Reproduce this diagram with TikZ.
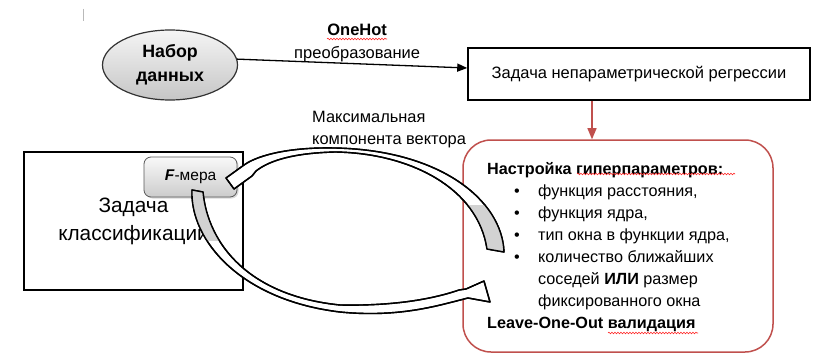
\documentclass[tikz,border=0pt]{standalone}
\usepackage{fontspec}
\setmainfont{Liberation Sans}
\usetikzlibrary{shapes.geometric, arrows, positioning, shadows, decorations.pathmorphing}
\definecolor{rubric}{HTML}{C0504D}

% bullet line and continuation line inside the tuning box
\newcommand{\bul}{\hspace*{27pt}\makebox[24pt][l]{\textbullet}}
\newcommand{\cont}{\hspace*{51pt}}

% the two twisted block arrows of the loop
\newcommand{\backband}{(504,252) .. controls (502,200) and (440,150) .. (335,148)
    .. controls (290,147) and (258,155) .. (244,165) -- (226,178) -- (234,189)
    -- (252,176) -- (256,171) .. controls (270,160) and (295,153) .. (335,152)
    .. controls (410,153) and (478,188) .. (487,249) -- cycle}
\newcommand{\fwdband}{(192,190) .. controls (190,240) and (240,300) .. (340,312)
    .. controls (400,318) and (440,305) .. (468,298) -- (490,302) -- (484,281)
    -- (466,289) -- (459,290) .. controls (430,300) and (390,306) .. (340,305)
    .. controls (250,296) and (208,245) .. (203,192) -- cycle}

\begin{document}
\begin{tikzpicture}[x=1pt, y=-1pt,
    box/.style={rectangle, draw, line width=1.7pt, align=center},
    arrow/.style={->, >=triangle 45, line width=1.3pt},
    redarrow/.style={->, >=triangle 45, line width=1.6pt, draw=rubric},
    band/.style={draw=black, line width=1.4pt, fill=white, line join=round},
    spell/.style={red!85, line width=0.6pt, decorate, decoration={snake, amplitude=0.8pt, segment length=3pt}}
]
    \useasboundingbox (0,0) rectangle (821,361);
    \fill[white] (0,0) rectangle (821,361);
    \draw[gray!55, line width=1pt] (83,9) -- (83,21);

    % Nodes
    \node[ellipse, draw=black!80, line width=1.2pt, minimum width=135pt, minimum height=70pt,
          top color=gray!8, bottom color=gray!45, align=center,
          font=\bfseries\fontsize{17.8}{24}\selectfont] (data) at (170,65) {Набор\\данных};
    \node[box, minimum width=342pt, minimum height=52pt,
          font=\fontsize{16.5}{18}\selectfont] (regr) at (639,74) {Задача непараметрической регрессии};
    \node[draw=rubric, line width=1.5pt, rounded corners=28pt,
          minimum width=310pt, minimum height=212pt] (tune) at (618,246) {};
    \node[anchor=north west, align=left, inner sep=0pt,
          font=\fontsize{16.2}{22}\selectfont] (tunetxt) at (487,162) {%
        \textbf{Настройка гиперпараметров:}\\
        \bul функция расстояния,\\
        \bul функция ядра,\\
        \bul тип окна в функции ядра,\\
        \bul количество ближайших\\
        \cont соседей \textbf{ИЛИ} размер\\
        \cont фиксированного окна\\
        \textbf{Leave-One-Out валидация}};
    \node[box, line width=1.8pt, minimum width=219pt, minimum height=138pt,
          font=\fontsize{20.8}{28}\selectfont] (clf) at (133.5,221) {Задача\\классификации};
    \node[draw=gray!70!black, line width=0.8pt, rounded corners=7pt, minimum width=93pt,
          minimum height=40pt, top color=gray!5, bottom color=gray!40,
          drop shadow={opacity=0.3, shadow xshift=1.5pt, shadow yshift=-1.5pt},
          font=\fontsize{15.5}{17}\selectfont] (fm) at (190.5,177) {\textbf{\textit{F}}-мера};
    \node[anchor=north west, align=left, inner sep=0pt,
          font=\fontsize{16.4}{22}\selectfont] (maxc) at (312,111) {Максимальная\\компонента вектора};

    % Arrows
    \draw[arrow] (data.5) -- ([yshift=6pt]regr.west)
        node[midway, above=-2pt, xshift=5pt, align=center, font=\fontsize{16.5}{23}\selectfont]
        {\textbf{OneHot}\\преобразование};
    \draw[redarrow] ([xshift=-47pt]regr.south) -- ([xshift=-47pt]regr.south |- tune.north);

    % loop: back to F-measure, forward to tuning
    \path[band] \backband;
    \begin{scope}
        \clip (468,205) rectangle (515,260);
        \fill[gray!35] \backband;
    \end{scope}
    \draw[band, fill=none] \backband;
    \path[band] \fwdband;
    \begin{scope}
        \clip (185,185) rectangle (225,240);
        \fill[gray!35] \fwdband;
    \end{scope}
    \draw[band, fill=none] \fwdband;

    % spell-check underlines
    \draw[spell] (327,39) -- (387,39);
    \draw[spell] (577,174) -- (735,174);
    \draw[spell] (608,333) -- (698,333);
\end{tikzpicture}
\end{document}
